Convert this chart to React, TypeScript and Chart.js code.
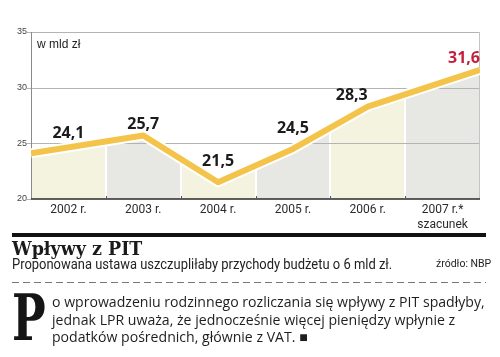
import React, { useEffect, useRef } from "react";
import { Chart, registerables } from "chart.js";

Chart.register(...registerables);

// ---- data ----
const years: (string | string[])[] = ["2002 r.", "2003 r.", "2004 r.", "2005 r.", "2006 r.", ["2007 r.*", "szacunek"]];
const values = [24.1, 25.7, 21.5, 24.5, 28.3, 31.6];
const valueLabels = ["24,1", "25,7", "21,5", "24,5", "28,3", "31,6"];
const yTicks = [20, 25, 30, 35];

// ---- style ----
const columnColors = ["#f4f3e0", "#e7e7e4"];
const lineColor = "#f4c34a";
const labelColor = "#1c1c1c";
const lastLabelColor = "#c41f3b";

const n = values.length;
const xPos = (i: number) => (i === 0 ? 0 : i === n - 1 ? n : i + 0.5);
const points = values.map((v, i) => ({ x: xPos(i), y: v }));

const bgPlugin = {
  id: "bgColumns",
  beforeDatasetsDraw(chart: any) {
    const { ctx, chartArea: a, scales } = chart;
    const x = scales.x;
    const y = scales.y;
    const pts = chart.getDatasetMeta(0).data;
    ctx.save();
    ctx.beginPath();
    ctx.moveTo(pts[0].x, a.bottom);
    pts.forEach((p: any) => ctx.lineTo(p.x, p.y));
    ctx.lineTo(pts[pts.length - 1].x, a.bottom);
    ctx.closePath();
    ctx.clip();
    years.forEach((_, i) => {
      const x0 = x.getPixelForValue(i);
      const x1 = x.getPixelForValue(i + 1);
      ctx.fillStyle = columnColors[i % 2];
      ctx.fillRect(x0, a.top, x1 - x0, a.bottom - a.top);
    });
    ctx.strokeStyle = "#ffffff";
    ctx.lineWidth = 2;
    for (let i = 1; i < years.length; i++) {
      const px = Math.round(x.getPixelForValue(i));
      ctx.beginPath();
      ctx.moveTo(px, a.top);
      ctx.lineTo(px, a.bottom);
      ctx.stroke();
    }
    ctx.restore();

    ctx.save();
    ctx.strokeStyle = "#b4b4b4";
    ctx.lineWidth = 1;
    yTicks.forEach((v) => {
      const py = Math.round(y.getPixelForValue(v)) + 0.5;
      ctx.beginPath();
      ctx.moveTo(a.left - 4, py);
      ctx.lineTo(v === yTicks[0] ? a.left : a.right, py);
      ctx.stroke();
    });
    ctx.strokeStyle = "#c4c4c4";
    ctx.beginPath();
    ctx.moveTo(Math.round(a.right) - 0.5, a.top);
    ctx.lineTo(Math.round(a.right) - 0.5, a.bottom);
    ctx.stroke();
    ctx.strokeStyle = "#8a8a8a";
    ctx.beginPath();
    ctx.moveTo(Math.round(a.left) + 0.5, a.top);
    ctx.lineTo(Math.round(a.left) + 0.5, a.bottom);
    ctx.stroke();
    ctx.strokeStyle = "#2a2a2a";
    ctx.lineWidth = 1.5;
    ctx.beginPath();
    ctx.moveTo(a.left, a.bottom);
    ctx.lineTo(a.right, a.bottom);
    ctx.stroke();
    ctx.lineWidth = 1;
    ctx.strokeStyle = "#555";
    for (let i = 1; i < years.length; i++) {
      const px = Math.round(x.getPixelForValue(i)) + 0.5;
      ctx.beginPath();
      ctx.moveTo(px, a.bottom - 3);
      ctx.lineTo(px, a.bottom);
      ctx.stroke();
    }
    ctx.restore();
  },
};

const labelPlugin = {
  id: "valueLabels",
  afterDatasetsDraw(chart: any) {
    const { ctx, scales } = chart;
    const x = scales.x;
    const pts = chart.getDatasetMeta(0).data;
    const lineYAt = (px: number) => {
      for (let k = 0; k < pts.length - 1; k++) {
        const p0 = pts[k];
        const p1 = pts[k + 1];
        if (px >= p0.x && px <= p1.x) {
          return p0.y + ((p1.y - p0.y) * (px - p0.x)) / (p1.x - p0.x);
        }
      }
      return px < pts[0].x ? pts[0].y : pts[pts.length - 1].y;
    };
    ctx.save();
    ctx.font = "bold 16px 'Open Sans', sans-serif";
    ctx.textBaseline = "middle";
    valueLabels.forEach((t, i) => {
      const w = ctx.measureText(t).width;
      const rightAligned = i >= n - 2;
      const anchor = rightAligned ? pts[i].x : x.getPixelForValue(i + 0.5);
      const left = rightAligned ? anchor - w : anchor - w / 2;
      let minY = Infinity;
      for (let s = 0; s <= 10; s++) {
        minY = Math.min(minY, lineYAt(left + (w * s) / 10));
      }
      ctx.fillStyle = i === n - 1 ? lastLabelColor : labelColor;
      ctx.textAlign = "left";
      ctx.fillText(t, left, minY - 11);
    });
    ctx.restore();
  },
};

function ChartBox() {
  const ref = useRef<HTMLCanvasElement | null>(null);
  useEffect(() => {
    if (!ref.current) return;
    const chart = new Chart(ref.current, {
      type: "line",
      data: {
        datasets: [
          {
            data: points,
            borderColor: lineColor,
            borderWidth: 6,
            pointRadius: 0,
            tension: 0,
            fill: false,
            order: 0,
            borderJoinStyle: "round",
            borderCapStyle: "butt",
          },
          {
            data: points,
            borderColor: "#ffffff",
            borderWidth: 10,
            pointRadius: 0,
            tension: 0,
            fill: false,
            order: 1,
            borderJoinStyle: "round",
          },
        ],
      },
      options: {
        animation: false,
        responsive: false,
        maintainAspectRatio: false,
        layout: { padding: { top: 32, right: 20, left: 0, bottom: 0 } },
        plugins: { legend: { display: false }, tooltip: { enabled: false } },
        scales: {
          x: {
            type: "linear",
            min: 0,
            max: n,
            grid: { display: false, drawTicks: false },
            border: { display: false },
            afterBuildTicks: (scale: any) => {
              scale.ticks = years.map((_, i) => ({ value: i + 0.5 }));
            },
            afterFit: (scale: any) => {
              scale.height = 41;
            },
            ticks: {
              autoSkip: false,
              maxRotation: 0,
              padding: 4,
              color: "#2b2b2b",
              font: { family: "Roboto", size: 12, lineHeight: 1.2 },
              callback: (v: any) => years[Math.round(Number(v) - 0.5)],
            },
          },
          y: {
            min: 20,
            max: 35,
            grid: { display: false, drawTicks: false },
            border: { display: false },
            afterFit: (scale: any) => {
              scale.width = 31;
            },
            afterBuildTicks: (scale: any) => {
              scale.ticks = yTicks.map((v) => ({ value: v }));
            },
            ticks: {
              padding: 4,
              color: "#444",
              font: { family: "Liberation Sans", size: 9 },
            },
          },
        },
      },
      plugins: [bgPlugin, labelPlugin],
    });
    return () => chart.destroy();
  }, []);
  return <canvas ref={ref} width={500} height={240} style={{ position: "absolute", left: 0, top: 0, width: 500, height: 240 }} />;
}

export default function App() {
  return (
    <div style={{ position: "absolute", left: 0, top: 0, width: 500, height: 357, background: "#fff", overflow: "hidden" }}>
      <ChartBox />
      <div style={{ position: "absolute", left: 37, top: 38, fontFamily: "'Liberation Sans', Arial, sans-serif", fontSize: 12, lineHeight: "12px", color: "#222" }}>
        w mld zł
      </div>
      <div style={{ position: "absolute", left: 12, top: 233, width: 474, height: 4, background: "#111" }} />
      <div style={{ position: "absolute", left: 12, top: 239, fontFamily: "'DejaVu Serif', serif", fontWeight: "bold", fontSize: 19, lineHeight: "19px", color: "#1a1a1a", whiteSpace: "nowrap", transform: "scaleX(0.92)", transformOrigin: "left top" }}>
        Wpływy z PIT
      </div>
      <div style={{ position: "absolute", left: 12, top: 257, fontFamily: "Roboto, sans-serif", fontSize: 15.5, lineHeight: "15px", color: "#222", whiteSpace: "nowrap", transform: "scaleX(0.835)", transformOrigin: "left top" }}>
        Proponowana ustawa uszczupliłaby przychody budżetu o 6 mld zł.
      </div>
      <div style={{ position: "absolute", left: 436, top: 259, fontFamily: "Roboto, sans-serif", fontSize: 10.5, lineHeight: "10px", color: "#222", whiteSpace: "nowrap" }}>
        źródło: NBP
      </div>
      <div style={{ position: "absolute", left: 12, top: 282, width: 474, height: 1, background: "repeating-linear-gradient(to right, #777 0px, #777 7px, transparent 7px, transparent 11px)" }} />
      <div style={{ position: "absolute", left: 12, top: 286, fontFamily: "'DejaVu Serif', serif", fontWeight: "bold", fontSize: 64, lineHeight: "64px", color: "#151515", transform: "scaleX(0.7)", transformOrigin: "left top" }}>
        P
      </div>
      <div style={{ position: "absolute", left: 52, top: 293, fontFamily: "'Open Sans', sans-serif", fontSize: 14.1, lineHeight: "17.5px", color: "#1e1e1e", whiteSpace: "nowrap" }}>
        o wprowadzeniu rodzinnego rozliczania się wpływy z PIT spadłyby,
        <br />
        jednak LPR uważa, że jednocześnie więcej pieniędzy wpłynie z
        <br />
        podatków pośrednich, głównie z VAT. ■
      </div>
    </div>
  );
}
